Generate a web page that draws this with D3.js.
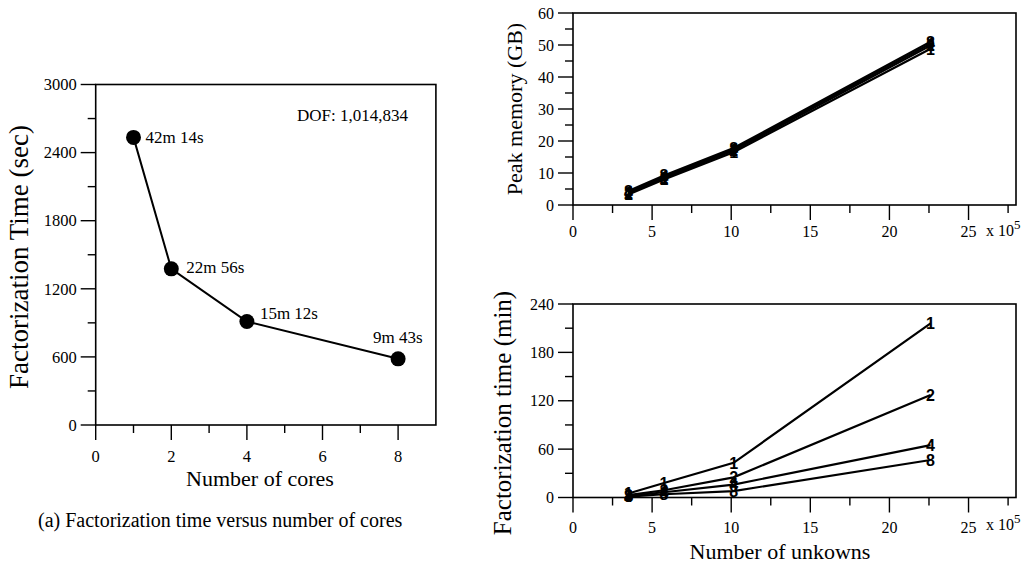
<!DOCTYPE html>
<html>
<head>
<meta charset="utf-8">
<script src="https://cdn.jsdelivr.net/npm/d3@7"></script>
<style>
  body { margin: 0; background: #fff; }
  svg { display: block; }
</style>
</head>
<body>
<svg id="chart" width="1030" height="564"></svg>
<script>
// left panel: factorization time vs cores
var cores = [1, 2, 4, 8];
var factTimeSec = [2534, 1376, 912, 583];
var timeLabels = ["42m 14s", "22m 56s", "15m 12s", "9m 43s"];

// right panels: x = number of unknowns (x 10^5)
var unknowns = [3.5, 5.75, 10.15, 22.6];
var seriesNames = ["1", "2", "4", "8"];
var memory1 = [3.3, 8.0, 16.5, 48.8];
var memory2 = [3.7, 8.4, 17.0, 49.8];
var memory4 = [4.0, 8.8, 17.4, 50.4];
var memory8 = [4.4, 9.2, 17.8, 51.0];
var time1 = [5, 18, 43, 216];
var time2 = [3, 9, 25, 127];
var time4 = [2, 6.5, 16, 65];
var time8 = [1, 4, 8, 46.5];

var SERIF = "'Liberation Serif', Tinos, 'Times New Roman', 'DejaVu Serif', serif";
var SANS = "'Liberation Sans', Arimo, Arial, 'DejaVu Sans', sans-serif";

var svg = d3.select("#chart").attr("font-family", SERIF);

function txt(g, size) {
    return g.append("text").attr("font-family", SERIF).attr("font-size", size).attr("fill", "#000");
}

// draws a framed box with outward ticks, returns the plot group
function framedAxes(opt) {
    var g = svg.append("g");
    var x = opt.x, y = opt.y;
    var x0 = x.range()[0], x1 = x.range()[1];
    var y0 = y.range()[0], y1 = y.range()[1];

    g.append("rect")
        .attr("x", x0).attr("y", y1)
        .attr("width", x1 - x0).attr("height", y0 - y1)
        .attr("fill", "none").attr("stroke", "#000").attr("stroke-width", 1.6);

    opt.yMinor.forEach(function (v) {
        g.append("line").attr("x1", x0 - 8).attr("x2", x0)
            .attr("y1", y(v)).attr("y2", y(v)).attr("stroke", "#000").attr("stroke-width", 1.4);
    });
    opt.yMajor.forEach(function (v) {
        g.append("line").attr("x1", x0 - 15).attr("x2", x0)
            .attr("y1", y(v)).attr("y2", y(v)).attr("stroke", "#000").attr("stroke-width", 1.4);
        txt(g, opt.tickSize).attr("x", x0 - 19).attr("y", y(v)).attr("dy", "0.35em")
            .attr("text-anchor", "end").text(v);
    });
    opt.xMinor.forEach(function (v) {
        g.append("line").attr("x1", x(v)).attr("x2", x(v))
            .attr("y1", y0).attr("y2", y0 + 8).attr("stroke", "#000").attr("stroke-width", 1.4);
    });
    opt.xMajor.forEach(function (v) {
        g.append("line").attr("x1", x(v)).attr("x2", x(v))
            .attr("y1", y0).attr("y2", y0 + 15).attr("stroke", "#000").attr("stroke-width", 1.4);
        txt(g, opt.tickSize).attr("x", x(v)).attr("y", y0 + opt.xLabelDy)
            .attr("text-anchor", "middle").text(v);
    });
    return g;
}

// ---------- left chart ----------
var xL = d3.scaleLinear().domain([0, 9]).range([95.7, 435.9]);
var yL = d3.scaleLinear().domain([0, 3000]).range([425, 84.5]);
var gL = framedAxes({
    x: xL, y: yL,
    xMajor: [0, 2, 4, 6, 8], xMinor: [1, 3, 5, 7],
    yMajor: [0, 600, 1200, 1800, 2400, 3000], yMinor: [300, 900, 1500, 2100, 2700],
    tickSize: 16.5, xLabelDy: 37
});

gL.append("path")
    .datum(d3.zip(cores, factTimeSec))
    .attr("fill", "none").attr("stroke", "#000").attr("stroke-width", 2)
    .attr("d", d3.line().x(d => xL(d[0])).y(d => yL(d[1])));

gL.selectAll("circle.pt")
    .data(d3.zip(cores, factTimeSec))
    .join("circle")
    .attr("cx", d => xL(d[0])).attr("cy", d => yL(d[1])).attr("r", 7.5)
    .attr("fill", "#000");

var labelOffsets = [[12, 6], [15, 4], [13, -2], [-25, -16]];
d3.zip(cores, factTimeSec, timeLabels, labelOffsets).forEach(function (d) {
    txt(gL, 17).attr("x", xL(d[0]) + d[3][0]).attr("y", yL(d[1]) + d[3][1]).text(d[2]);
});

txt(gL, 17).attr("x", 297).attr("y", 121).text("DOF: 1,014,834");

txt(gL, 27)
    .attr("transform", "translate(28,257) rotate(-90)")
    .attr("text-anchor", "middle")
    .text("Factorization Time (sec)");
txt(gL, 22).attr("x", 260).attr("y", 486).attr("text-anchor", "middle").text("Number of cores");
txt(gL, 20).attr("x", 38).attr("y", 527).text("(a) Factorization time versus number of cores");

// ---------- right charts ----------
function seriesPanel(x, y, series) {
    var g = svg.append("g");
    series.forEach(function (vals, i) {
        var pts = d3.zip(unknowns, vals);
        g.append("path").datum(pts)
            .attr("fill", "none").attr("stroke", "#000").attr("stroke-width", 2.2)
            .attr("d", d3.line().x(d => x(d[0])).y(d => y(d[1])));
        g.selectAll("text.m" + i).data(pts).join("text")
            .attr("class", "m" + i)
            .attr("font-family", SANS).attr("font-weight", "bold").attr("font-size", 16)
            .attr("x", d => x(d[0])).attr("y", d => y(d[1])).attr("dy", "0.36em")
            .attr("text-anchor", "middle")
            .text(seriesNames[i]);
    });
}

function xTimes10(g, x, yBase) {
    var t = txt(g, 16).attr("x", x).attr("y", yBase);
    t.append("tspan").text("x 10");
    t.append("tspan").attr("dy", -7).attr("font-size", 13).text("5");
}

var xR = d3.scaleLinear().domain([0, 28]).range([573, 1016]);

// peak memory
var yM = d3.scaleLinear().domain([0, 60]).range([205, 13]);
var gM = framedAxes({
    x: xR, y: yM,
    xMajor: [0, 5, 10, 15, 20, 25], xMinor: [2.5, 7.5, 12.5, 17.5, 22.5, 27.5],
    yMajor: [0, 10, 20, 30, 40, 50, 60], yMinor: [5, 15, 25, 35, 45, 55],
    tickSize: 16, xLabelDy: 32
});
seriesPanel(xR, yM, [memory1, memory2, memory4, memory8]);
xTimes10(gM, 986, 236);
txt(gM, 22)
    .attr("transform", "translate(522,109) rotate(-90)")
    .attr("text-anchor", "middle")
    .text("Peak memory (GB)");

// factorization time (min)
var yT = d3.scaleLinear().domain([0, 240]).range([497.5, 304]);
var gT = framedAxes({
    x: xR, y: yT,
    xMajor: [0, 5, 10, 15, 20, 25], xMinor: [2.5, 7.5, 12.5, 17.5, 22.5, 27.5],
    yMajor: [0, 60, 120, 180, 240], yMinor: [30, 90, 150, 210],
    tickSize: 16, xLabelDy: 35
});
seriesPanel(xR, yT, [time1, time2, time4, time8]);
xTimes10(gT, 986, 530);
txt(gT, 25)
    .attr("transform", "translate(511,413) rotate(-90)")
    .attr("text-anchor", "middle")
    .text("Factorization time (min)");
txt(gT, 22).attr("x", 780).attr("y", 559).attr("text-anchor", "middle").text("Number of unkowns");
</script>
</body>
</html>
